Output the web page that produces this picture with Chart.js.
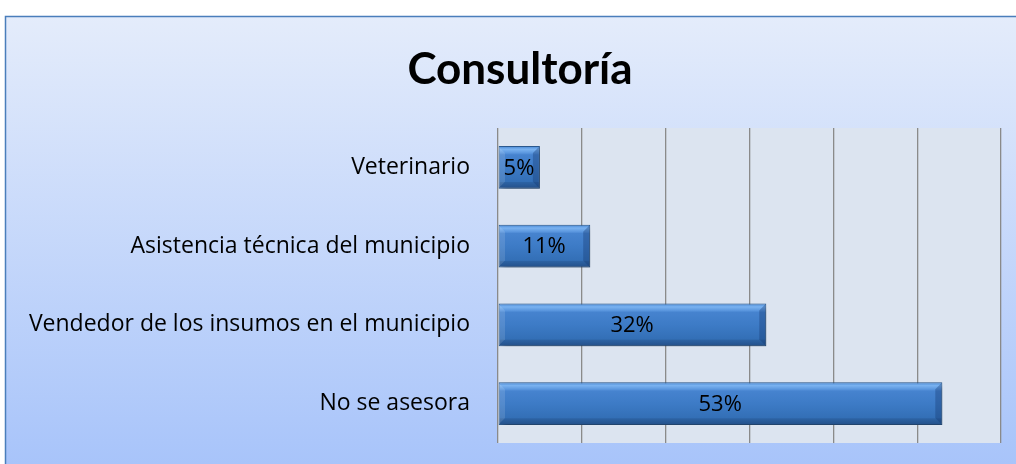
<!DOCTYPE html>
<html>
<head>
<meta charset="utf-8">
<script src="https://cdn.jsdelivr.net/npm/chart.js@4"></script>
<style>
  html, body { margin: 0; padding: 0; background: #ffffff; }
  #wrap { width: 1016px; height: 464px; }
</style>
</head>
<body>
<div id="wrap"><canvas id="wykres"></canvas></div>
<script>
const categories = ['Veterinario', 'Asistencia técnica del municipio', 'Vendedor de los insumos en el municipio', 'No se asesora'];
const values = [5, 11, 32, 53];
const chartTitle = 'Consultoría';

// tlo ramki + tytul
const backgroundPlugin = {
    id: 'tlo',
    beforeDraw(chart) {
        const c = chart.ctx;
        const w = chart.width, h = chart.height;
        c.save();
        c.fillStyle = '#ffffff';
        c.fillRect(0, 0, w, h);
        const g = c.createLinearGradient(0, 16, 0, h);
        g.addColorStop(0, '#e4ecfb');
        g.addColorStop(1, '#a8c4fa');
        c.fillStyle = g;
        c.fillRect(5, 16, w - 5, h - 16);
        c.strokeStyle = '#4a7ebb';
        c.lineWidth = 1.5;
        c.strokeRect(5.5, 16.5, w + 10, h + 10);
        const a = chart.chartArea;
        c.fillStyle = '#dce4f0';
        c.fillRect(a.left, a.top, a.right - a.left, a.bottom - a.top);
        c.fillStyle = '#000000';
        c.font = 'bold 44px Lato';
        c.textAlign = 'center';
        c.textBaseline = 'middle';
        c.fillText(chartTitle, 520, 70);
        c.restore();
    }
};

// cien pod slupkami, faza na koncach + etykiety wartosci
const shadowPlugin = {
    id: 'cien',
    beforeDatasetsDraw(chart) {
        const c = chart.ctx;
        c.save();
        c.shadowColor = 'rgba(0,0,0,0.35)';
        c.shadowBlur = 6;
        c.shadowOffsetX = 3;
        c.shadowOffsetY = 3;
    },
    afterDatasetsDraw(chart) {
        const c = chart.ctx;
        c.restore();
        const meta = chart.getDatasetMeta(0);
        const left = chart.scales.x.getPixelForValue(0);
        const b = 6;
        c.save();
        meta.data.forEach((bar) => {
            const top = bar.y - bar.height / 2 + 1;
            const bottom = bar.y + bar.height / 2 - 1;
            const right = bar.x - 1;
            const l = left + 1;
            // prawa faza
            c.fillStyle = 'rgba(20, 55, 110, 0.35)';
            c.beginPath();
            c.moveTo(right - b, top + b);
            c.lineTo(right, top);
            c.lineTo(right, bottom);
            c.lineTo(right - b, bottom - b);
            c.closePath();
            c.fill();
            // lewa faza
            c.fillStyle = 'rgba(255, 255, 255, 0.12)';
            c.beginPath();
            c.moveTo(l, top);
            c.lineTo(l + b, top + b);
            c.lineTo(l + b, bottom - b);
            c.lineTo(l, bottom);
            c.closePath();
            c.fill();
        });
        c.fillStyle = '#000000';
        c.font = '22px "Open Sans"';
        c.textAlign = 'center';
        c.textBaseline = 'middle';
        meta.data.forEach((bar, i) => {
            c.fillText(values[i] + '%', (left + bar.x) / 2, bar.y + 1);
        });
        c.restore();
    }
};

function barFill(context) {
    const chart = context.chart;
    const y = chart.scales && chart.scales.y;
    if (!y || !chart.chartArea) return '#3f7cc6';
    const cy = y.getPixelForValue(context.dataIndex);
    const half = 21;
    const g = chart.ctx.createLinearGradient(0, cy - half, 0, cy + half);
    g.addColorStop(0, '#4a8ad6');
    g.addColorStop(0.07, '#7ab2f0');
    g.addColorStop(0.16, '#5a96de');
    g.addColorStop(0.2, '#4683cf');
    g.addColorStop(0.5, '#3d7bc6');
    g.addColorStop(0.84, '#336fb6');
    g.addColorStop(0.86, '#2c62a3');
    g.addColorStop(1, '#24508a');
    return g;
}

document.addEventListener("DOMContentLoaded", function() {
    const ctx = document.getElementById('wykres').getContext('2d');
    new Chart(ctx, {
        type: 'bar',
        data: {
            labels: categories,
            datasets: [{
                label: chartTitle,
                data: values,
                backgroundColor: barFill,
                borderColor: '#2d5c94',
                borderWidth: 1,
                borderSkipped: false,
                barPercentage: 0.54,
                categoryPercentage: 1
            }]
        },
        options: {
            indexAxis: 'y',
            responsive: true,
            maintainAspectRatio: false,
            animation: false,
            layout: {
                padding: { left: 0, right: 15, top: 128, bottom: 21 }
            },
            scales: {
                x: {
                    display: true,
                    min: 0,
                    max: 60,
                    ticks: { display: false, stepSize: 10, padding: 0 },
                    grid: { color: '#8a8a8a', lineWidth: 1.3, drawTicks: false },
                    border: { display: false },
                    afterFit(scale) {
                        scale.height = 0;
                        scale.paddingLeft = 0;
                        scale.paddingRight = 0;
                    }
                },
                y: {
                    grid: { display: false, drawTicks: false },
                    border: { display: false },
                    ticks: {
                        color: '#000000',
                        font: { family: 'Open Sans', size: 23 },
                        padding: 28
                    },
                    afterFit(scale) {
                        scale.width = 498;
                        scale.paddingTop = 0;
                        scale.paddingBottom = 0;
                    }
                }
            },
            plugins: {
                legend: { display: false },
                title: { display: false },
                tooltip: { enabled: false }
            }
        },
        plugins: [backgroundPlugin, shadowPlugin]
    });
});
</script>
</body>
</html>
